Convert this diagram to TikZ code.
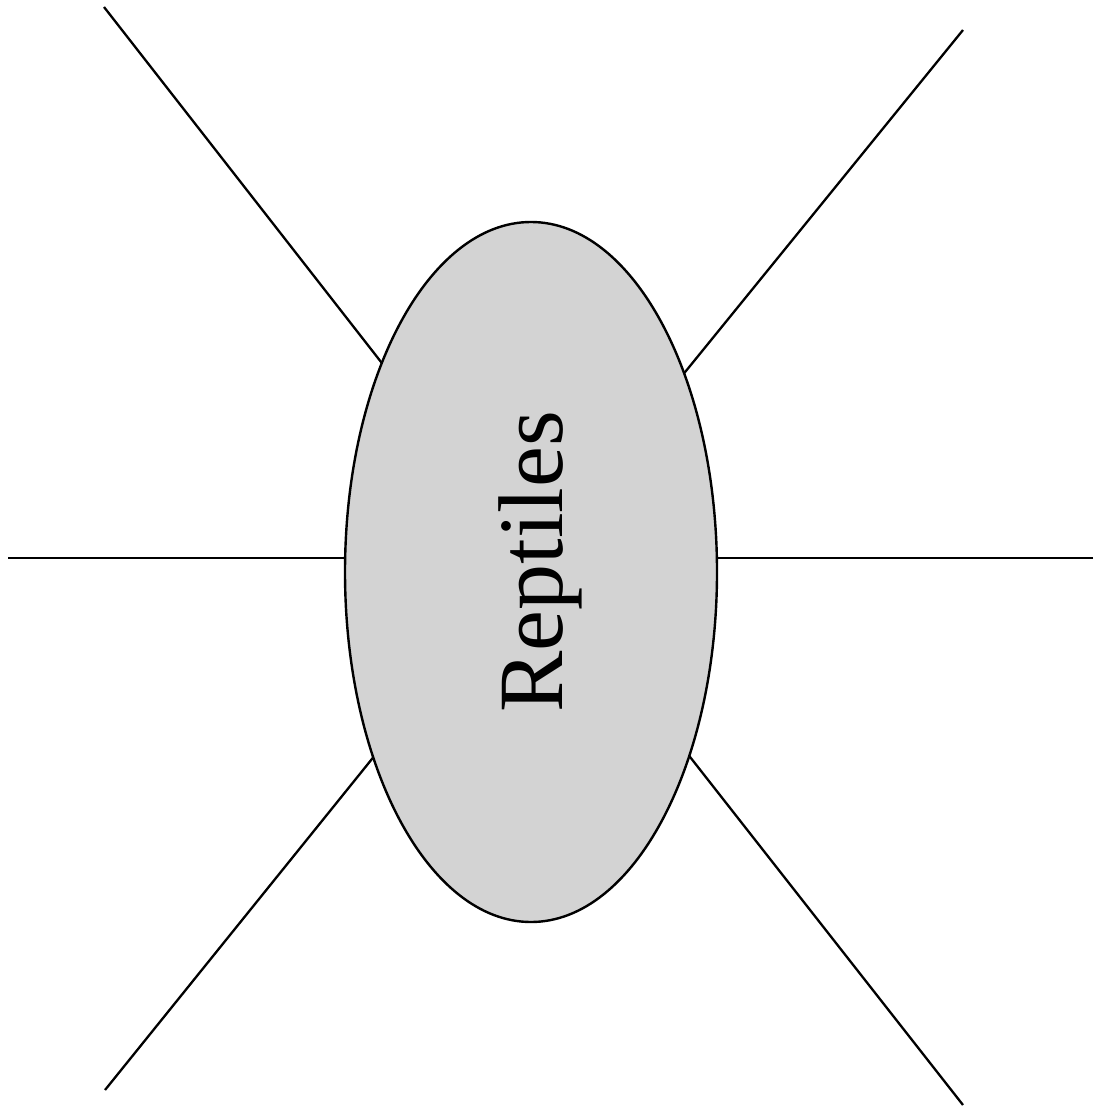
\documentclass[tikz,border=0pt]{standalone}
\usepackage{fontspec}
\setmainfont{Liberation Serif}
\usetikzlibrary{shapes.geometric}
\definecolor{blobfill}{RGB}{211,211,211}
\tikzset{
  spoke/.style={line width=2.3pt, black},
  blob/.style={ellipse, draw=black, line width=2.4pt, fill=blobfill,
    minimum width=372pt, minimum height=700pt, inner sep=0pt, outer sep=0pt},
  bigtext/.style={rotate=90, anchor=base, inner sep=0pt,
    font=\fontsize{92}{100}\selectfont}
}
\begin{document}
\begin{tikzpicture}[x=1pt,y=-1pt]
\useasboundingbox (0,0) rectangle (1093,1107);
\coordinate (hub) at (534,558);
\coordinate (ul) at (104,7);
\coordinate (ur) at (963,30);
\coordinate (l) at (8,558);
\coordinate (r) at (1093,558);
\coordinate (ll) at (105,1090);
\coordinate (lr) at (963,1105);
\foreach \p in {ul,ur,l,r,ll,lr} \draw[spoke] (\p) -- (hub);
\node[blob] (reptiles) at (531,572) {};
\node[bigtext] (label) at (562,562) {Reptiles};
\end{tikzpicture}
\end{document}
